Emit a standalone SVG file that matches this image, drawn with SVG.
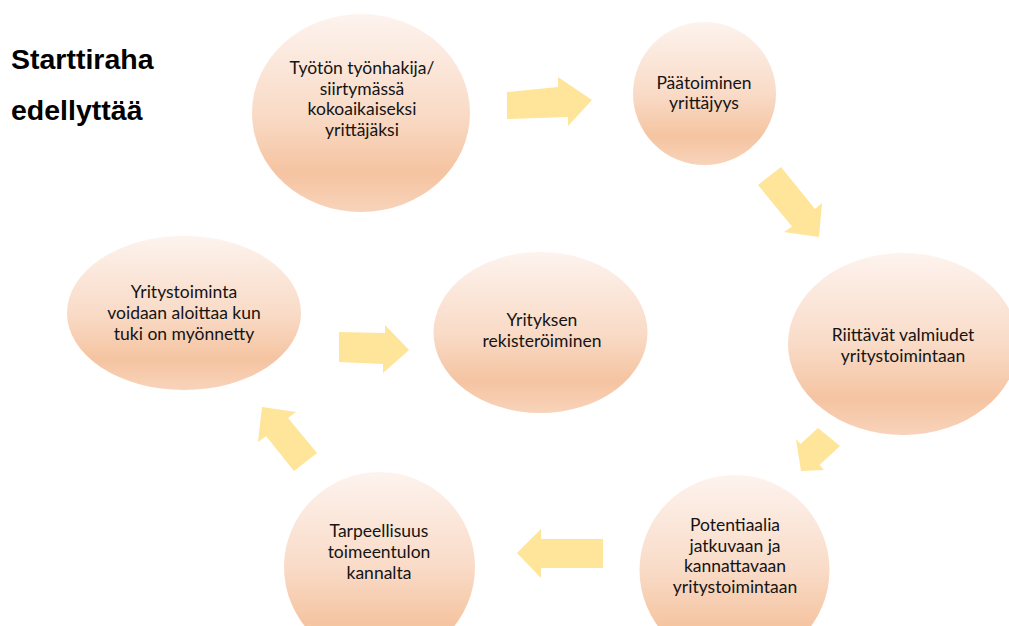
<svg xmlns="http://www.w3.org/2000/svg" width="1009" height="626" viewBox="0 0 1009 626">
<defs>
<linearGradient id="peach" x1="0" y1="0" x2="0" y2="1">
<stop offset="0" stop-color="#fdf3ee"/>
<stop offset="0.5" stop-color="#f9dbc7"/>
<stop offset="0.8" stop-color="#f5c4a1"/>
<stop offset="1" stop-color="#f8d3ba"/>
</linearGradient>
<style>
.node{fill:url(#peach);}
.lbl{font-family:Lato,"Open Sans","Liberation Sans",sans-serif;font-size:17.5px;fill:#141414;text-anchor:middle;}
.title{font-family:"Liberation Sans",Arial,sans-serif;font-weight:bold;font-size:28.5px;fill:#000;}
.arrow{fill:#fee599;}
</style>
</defs>
<rect width="1009" height="626" fill="#fff"/>
<g id="title">
<text class="title" x="11" y="69">Starttiraha</text>
<text class="title" x="11" y="120">edellyttää</text>
</g>
<g id="connectors">
<polygon class="arrow" points="507,92 558,87 558,77 592,100 568,126 568,117 507,119"/>
<polygon class="arrow" points="758,185 792,226.5 784,232 819,237 822,203 815,209 781,167"/>
<polygon class="arrow" points="818,428 800.5,444 796,439 801,471 824,470 819.5,465 840,446"/>
<polygon class="arrow" points="603,539 541,539 541,529 517,553 541,578 541,568 603,568"/>
<polygon class="arrow" points="294,471 266,436 258,442 262,407 296,412 288,418 317,453"/>
<polygon class="arrow" points="339,332 385,333 385,325 409,350 383,373 383,364 339,362"/>
</g>
<g id="n1">
<ellipse class="node" cx="361" cy="113" rx="109" ry="99"/>
<text class="lbl" x="362" y="74">Työtön työnhakija/</text>
<text class="lbl" x="362" y="95">siirtymässä</text>
<text class="lbl" x="362" y="115">kokoaikaiseksi</text>
<text class="lbl" x="362" y="136">yrittäjäksi</text>
</g>
<g id="n2">
<ellipse class="node" cx="704.5" cy="93.5" rx="71.5" ry="71.5"/>
<text class="lbl" x="704" y="89">Päätoiminen</text>
<text class="lbl" x="704" y="109">yrittäjyys</text>
</g>
<g id="n3">
<ellipse class="node" cx="903" cy="344" rx="115" ry="91"/>
<text class="lbl" x="903" y="341">Riittävät valmiudet</text>
<text class="lbl" x="903" y="362">yritystoimintaan</text>
</g>
<g id="n4">
<ellipse class="node" cx="734.5" cy="570" rx="95" ry="95"/>
<text class="lbl" x="735" y="531">Potentiaalia</text>
<text class="lbl" x="735" y="552">jatkuvaan ja</text>
<text class="lbl" x="735" y="572">kannattavaan</text>
<text class="lbl" x="735" y="593">yritystoimintaan</text>
</g>
<g id="n5">
<ellipse class="node" cx="379.5" cy="567" rx="95.5" ry="95"/>
<text class="lbl" x="379" y="537">Tarpeellisuus</text>
<text class="lbl" x="379" y="558">toimeentulon</text>
<text class="lbl" x="379" y="579">kannalta</text>
</g>
<g id="n6">
<ellipse class="node" cx="184" cy="313" rx="117" ry="77"/>
<text class="lbl" x="184" y="298">Yritystoiminta</text>
<text class="lbl" x="184" y="319">voidaan aloittaa kun</text>
<text class="lbl" x="184" y="340">tuki on myönnetty</text>
</g>
<g id="n7">
<ellipse class="node" cx="540.5" cy="332.5" rx="107" ry="80.5"/>
<text class="lbl" x="542" y="326">Yrityksen</text>
<text class="lbl" x="542" y="347">rekisteröiminen</text>
</g>
</svg>
